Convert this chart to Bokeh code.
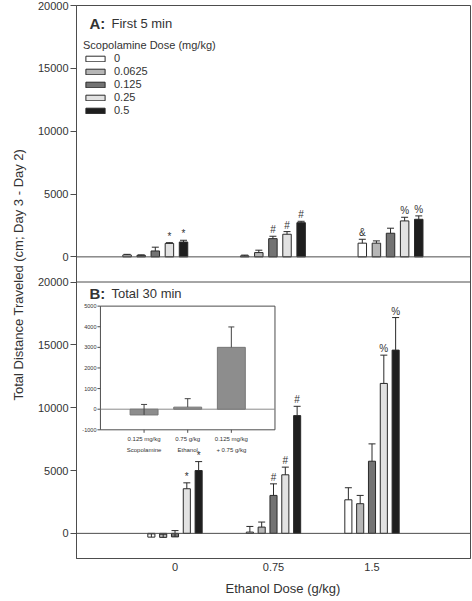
import numpy as np
from bokeh.plotting import figure
from bokeh.models import (Range1d, FixedTicker, Legend, LegendItem, Label, Span,
                          ColumnDataSource, Title)
from bokeh.core.properties import value
from bokeh.transform import dodge
from bokeh.embed import file_html
from bokeh.resources import INLINE

# ---------------- data ----------------
ethanol_doses = ["0", "0.75", "1.5"]            # x categories (g/kg)
group_x = [1, 2, 3]                              # numeric group positions
scop_doses = ["0", "0.0625", "0.125", "0.25", "0.5"]   # legend (mg/kg)
scop_colors = ["#ffffff", "#b6b6b6", "#737373", "#e2e2e2", "#1e1e1e"]

# Panel A: first 5 min (one list per scopolamine dose, over ethanol doses)
a_mean = [
    [150, 80, 1090],
    [120, 340, 1090],
    [470, 1450, 1880],
    [1070, 1800, 2860],
    [1180, 2720, 2990],
]
a_err = [
    [50, 60, 310],
    [40, 190, 180],
    [300, 190, 400],
    [60, 210, 290],
    [140, 110, 270],
]
a_marks = [
    ["", "", "&"],
    ["", "", ""],
    ["", "#", ""],
    ["*", "#", "%"],
    ["*", "#", "%"],
]

# Panel B: total 30 min
b_mean = [
    [-300, 100, 2670],
    [-320, 500, 2360],
    [-280, 3020, 5740],
    [3550, 4660, 11930],
    [5000, 9370, 14580],
]
b_err = [
    [260, 450, 960],
    [250, 400, 660],
    [500, 920, 1380],
    [470, 610, 2250],
    [710, 740, 2590],
]
b_marks = [
    ["", "", ""],
    ["", "", ""],
    ["", "#", ""],
    ["*", "#", "%"],
    ["*", "#", "%"],
]

# Inset (panel B)
inset_x = [1, 2, 3]
inset_line1 = ["0.125 mg/kg", "0.75 g/kg", "0.125 mg/kg"]
inset_line2 = ["Scopolamine", "Ethanol", "+ 0.75 g/kg"]
inset_mean = [-280, 100, 3000]
inset_err = [510, 410, 990]
inset_ticks = [-1000, 0, 1000, 2000, 3000, 4000, 5000]

y_ticks = [0, 5000, 10000, 15000, 20000]
panel_titles = [("A:", "First 5 min"), ("B:", "Total 30 min")]
y_title = "Total Distance Traveled (cm; Day 3 - Day 2)"
x_title = "Ethanol Dose (g/kg)"
legend_title = "Scopolamine Dose (mg/kg)"

# ---------------- layout constants ----------------
FONT = "Liberation Sans"
INK = "#333333"
EDGE = "#2a2a2a"
FRAME = "#4d4d4d"
offsets = [-0.24, -0.12, 0.0, 0.12, 0.24]
BAR_W = 0.072
Y_LO, Y_HI = -2000, 20000
A_SHIFT = 22000          # panel A stacked above panel B on one frame

p = figure(frame_width=394, frame_height=553, x_range=Range1d(0, 4),
           y_range=Range1d(Y_LO, Y_HI + A_SHIFT),
           output_backend="svg", toolbar_location=None,
           min_border_left=75, min_border_right=1,
           min_border_top=5, min_border_bottom=10)
p.xgrid.visible = False
p.ygrid.visible = False
p.outline_line_color = FRAME
p.outline_line_width = 1
p.background_fill_color = "white"
p.border_fill_color = "white"

# y axis: ticks for both panels
ticks = sorted(set(list(y_ticks) + [t + A_SHIFT for t in y_ticks]))
overrides = {t: str(t) for t in y_ticks}
overrides.update({t + A_SHIFT: str(t) for t in y_ticks})
p.yaxis.ticker = FixedTicker(ticks=ticks)
p.yaxis.major_label_overrides = overrides
p.yaxis.minor_tick_line_color = None
p.yaxis.major_tick_in = 0
p.yaxis.major_tick_out = 6
p.yaxis.major_tick_line_color = FRAME
p.yaxis.axis_line_color = FRAME
p.yaxis.major_label_text_font = FONT
p.yaxis.major_label_text_font_size = "11px"
p.yaxis.major_label_text_color = INK
p.yaxis.major_label_standoff = 2

p.xaxis.ticker = FixedTicker(ticks=group_x)
p.xaxis.major_label_overrides = {g: lab for g, lab in zip(group_x, ethanol_doses)}
p.xaxis.minor_tick_line_color = None
p.xaxis.major_tick_in = 0
p.xaxis.major_tick_out = 0
p.xaxis.axis_line_color = FRAME
p.xaxis.major_label_text_font = FONT
p.xaxis.major_label_text_font_size = "11px"
p.xaxis.major_label_text_color = INK
p.xaxis.major_label_standoff = 4

# axis titles as side titles (so they can be positioned like the original)
p.add_layout(Title(text=x_title, align="left", offset=149, standoff=10,
                   text_font=FONT, text_font_size="13px", text_font_style="normal",
                   text_color=INK), "below")
p.add_layout(Title(text=y_title, align="left", offset=158, standoff=17,
                   text_font=FONT, text_font_size="13px", text_font_style="normal",
                   text_color=INK), "left")

# panel separator and zero lines
p.add_layout(Span(location=Y_HI, dimension="width", line_color=FRAME, line_width=1))
p.add_layout(Span(location=0, dimension="width", line_color=FRAME, line_width=1))
p.add_layout(Span(location=A_SHIFT, dimension="width", line_color=FRAME, line_width=1))

subA = p.subplot(x_source=Range1d(0.33, 3.68), y_source=Range1d(Y_LO, Y_HI),
                 x_target=Range1d(0, 4), y_target=Range1d(Y_LO + A_SHIFT, Y_HI + A_SHIFT))
subB = p.subplot(x_source=Range1d(0, 4), y_source=Range1d(Y_LO, Y_HI),
                 x_target=Range1d(0, 4), y_target=Range1d(Y_LO, Y_HI))


def draw_panel(sub, means, errs, marks):
    rends = []
    for i in range(len(scop_doses)):
        src = ColumnDataSource(dict(
            x=group_x, top=means[i],
            up=[m + e for m, e in zip(means[i], errs[i])],
            mark=marks[i]))
        xs = dodge("x", offsets[i])
        r = sub.vbar(x=xs, top="top", bottom=0, width=BAR_W, source=src,
                     fill_color=scop_colors[i], line_color=EDGE, line_width=1)
        sub.segment(x0=xs, y0="top", x1=xs, y1="up", source=src,
                    line_color=EDGE, line_width=1)
        sub.scatter(x=xs, y="up", marker="dash", size=7, source=src,
                    line_color=EDGE, line_width=1)
        sub.text(x=xs, y="up", text="mark", source=src, text_align="center",
                 text_baseline="bottom", y_offset=-1,
                 text_font=value(FONT), text_font_size="10px", text_color=INK)
        rends.append(r)
    return rends


rA = draw_panel(subA, a_mean, a_err, a_marks)
rB = draw_panel(subB, b_mean, b_err, b_marks)

# ---------------- inset ----------------
IX0, IX1 = 0, 4
IY0, IY1 = inset_ticks[0], inset_ticks[-1]
subI = p.subplot(x_source=Range1d(IX0, IX1), y_source=Range1d(IY0, IY1),
                 x_target=Range1d(0.243, 2.015), y_target=Range1d(8240, 18080))
subI.quad(left=[IX0], right=[IX1], bottom=[IY0], top=[IY1],
          fill_color="white", line_color=FRAME, line_width=1)
subI.segment(x0=[IX0], y0=[0], x1=[IX1], y1=[0], line_color="#8a8a8a", line_width=1)
isrc = ColumnDataSource(dict(x=inset_x, top=inset_mean,
                             up=[m + e for m, e in zip(inset_mean, inset_err)],
                             l1=inset_line1, l2=inset_line2,
                             base=[IY0] * len(inset_x)))
subI.vbar(x="x", top="top", bottom=0, width=0.64, source=isrc,
          fill_color="#8d8d8d", line_color="#777777", line_width=1)
subI.segment(x0="x", y0="top", x1="x", y1="up", source=isrc, line_color="#444", line_width=1)
subI.scatter(x="x", y="up", marker="dash", size=6, source=isrc, line_color="#444")
tsrc = ColumnDataSource(dict(y=inset_ticks, x=[IX0] * len(inset_ticks),
                             lab=[str(t) for t in inset_ticks]))
subI.ray(x="x", y="y", length=3, length_units="screen", angle=np.pi, source=tsrc,
         line_color=FRAME)
subI.text(x="x", y="y", text="lab", source=tsrc, x_offset=-4, text_align="right",
          text_baseline="middle", text_font=value(FONT), text_font_size="5.5px",
          text_color=INK)
subI.ray(x="x", y="base", length=3, length_units="screen", angle=-np.pi / 2,
         source=isrc, line_color=FRAME)
subI.text(x="x", y="base", text="l1", source=isrc, y_offset=6, text_align="center",
          text_baseline="top", text_font=value(FONT), text_font_size="6px",
          text_color=INK)
subI.text(x="x", y="base", text="l2", source=isrc, y_offset=17, text_align="center",
          text_baseline="top", text_font=value(FONT), text_font_size="6px",
          text_color=INK)

# ---------------- legend ----------------
legend = Legend(items=[LegendItem(label=s, renderers=[r]) for s, r in zip(scop_doses, rA)],
                location=(7, 442), title=legend_title,
                title_text_font=FONT, title_text_font_size="11px",
                title_text_font_style="normal", title_text_color=INK,
                title_standoff=1,
                label_text_font=FONT, label_text_font_size="11px",
                label_text_color=INK, label_standoff=7,
                glyph_width=24, glyph_height=7, label_height=12, spacing=1,
                padding=0, margin=0, border_line_alpha=0, background_fill_alpha=0)
p.add_layout(legend)

# ---------------- panel titles ----------------
title_y = [18560 + A_SHIFT, 19120]
for (bold, rest), ypos in zip(panel_titles, title_y):
    p.add_layout(Label(x=13, y=ypos, x_units="screen", y_units="data", text=bold,
                       text_font=FONT, text_font_size="15px", text_font_style="bold",
                       text_color=INK, text_baseline="middle"))
    p.add_layout(Label(x=35, y=ypos, x_units="screen", y_units="data", text=rest,
                       text_font=FONT, text_font_size="13px",
                       text_color=INK, text_baseline="middle"))

open("out.html", "w").write(file_html(p, INLINE))
